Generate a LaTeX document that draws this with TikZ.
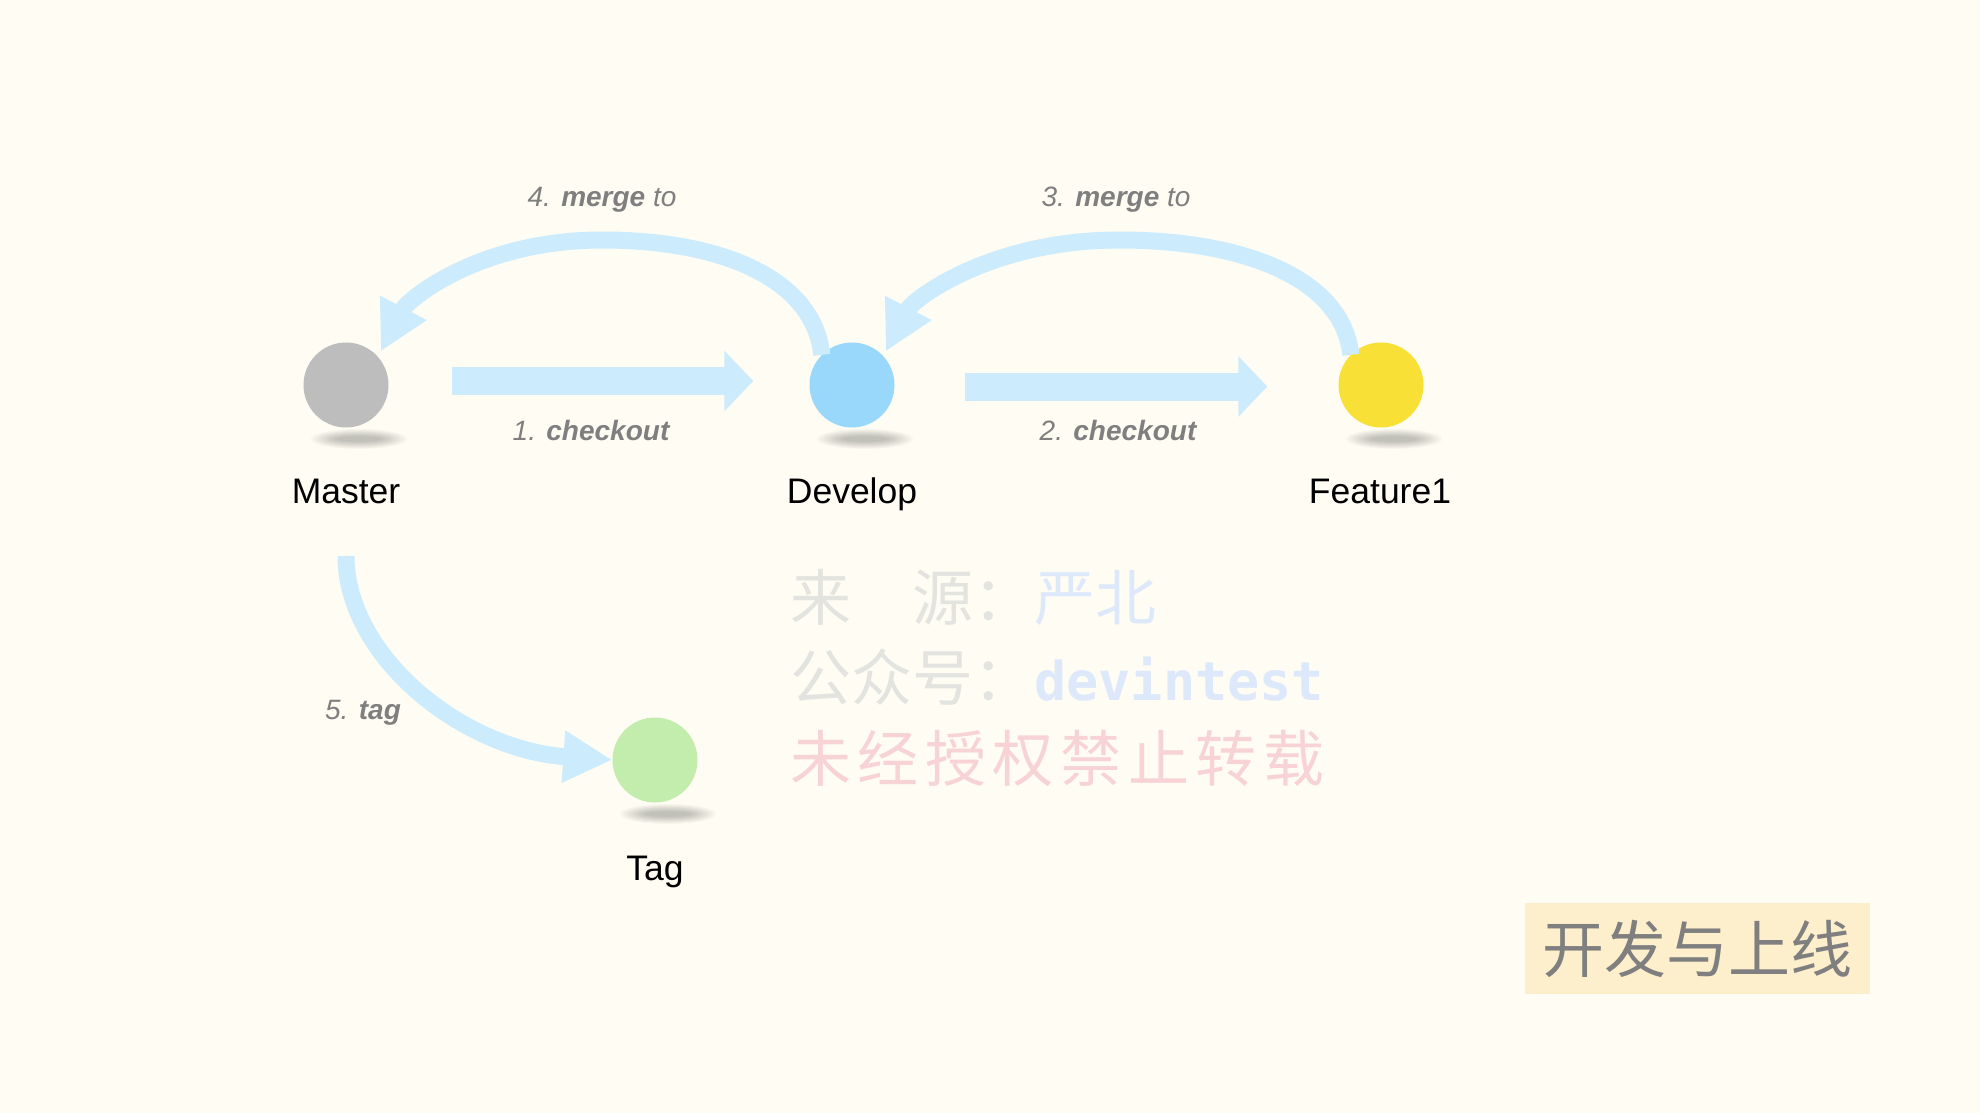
\documentclass[tikz,border=0pt]{standalone}
\usepackage{fontspec}
\setmainfont{Liberation Sans}
\newfontfamily\cjk{Noto Sans CJK SC}
\newfontfamily\cjkls[LetterSpace=10.8]{Noto Sans CJK SC}
\newfontfamily\wmmono{DejaVu Sans Mono}
\usetikzlibrary{arrows.meta,calc}
\definecolor{bgc}{HTML}{FEFCF3}
\definecolor{arrowc}{HTML}{CCEBFC}
\definecolor{cmaster}{HTML}{BDBDBD}
\definecolor{cdev}{HTML}{99D8FA}
\definecolor{cfeat}{HTML}{F8E037}
\definecolor{ctag}{HTML}{C2EDAD}
\definecolor{lblgray}{HTML}{7F7F7F}
\definecolor{wmgray}{HTML}{E3E3E0}
\definecolor{wmblue}{HTML}{DDE9FA}
\definecolor{wmpink}{HTML}{F8D3D6}
\definecolor{titlebg}{HTML}{FDEFCC}
\definecolor{titlefg}{HTML}{7F7F7F}
\tikzset{
  dot/.style={circle, inner sep=0pt, minimum size=85pt, draw=none},
  branchname/.style={inner sep=0pt, text=black, font=\fontsize{35.5}{40}\selectfont},
  steplbl/.style={inner sep=0pt, text=lblgray, font=\fontsize{28}{32}\selectfont\itshape},
  flatarrow/.style={draw=arrowc, line width=28pt, -{Triangle[length=29pt,width=59pt]}},
  curvearrow/.style={draw=arrowc, line width=17pt, -{Triangle[length=49pt,width=49pt]}},
  wm/.style={inner sep=0pt, font=\fontsize{61}{66}\selectfont\cjk},
}
\begin{document}
\begin{tikzpicture}[x=1pt,y=-1pt]
\fill[bgc] (0,0) rectangle (1980,1113);
\useasboundingbox (0,0) rectangle (1980,1113);

% shadows
\foreach \cx/\cy in {346/385, 852/385, 1381/385, 655/760}{
  \foreach \k in {0,...,8}{
    \fill[black, opacity=0.028] (\cx+13,\cy+54) ellipse ({48-3.2*\k} and {10-0.9*\k});
  }
}

% branch dots
\node[dot, fill=cmaster] (m) at (346,385) {};
\node[dot, fill=cdev] (d) at (852,385) {};
\node[dot, fill=cfeat] (f) at (1381,385) {};
\node[dot, fill=ctag] (t) at (655,760) {};

% names
\node[branchname, anchor=base] (ml) at (346,503) {Master};
\node[branchname, anchor=base] (dl) at (852,503) {Develop};
\node[branchname, anchor=base] (fl) at (1380,503) {Feature1};
\node[branchname, anchor=base] (tl) at (655,880) {Tag};

% straight arrows
\draw[flatarrow] ($(m.east)+(63,-4)$) -- ($(d.west)+(-56,-4)$);
\draw[flatarrow] ($(d.east)+(70,1.5)$) -- ($(f.west)+(-71,1.5)$);

% curved arrows
\draw[curvearrow] (d.135) .. controls (814,280) and (724,240) .. (602,240)
  .. controls (480,240) and (408,299) .. ($(m.44)+(4,-4)$);
\draw[curvearrow] (f.135) .. controls (1343,280) and (1247,240) .. (1119,240)
  .. controls (991,240) and (913,299) .. ($(d.44)+(3,-4)$);
\coordinate (mstart) at ($(m.center)+(0,171)$);
\draw[curvearrow] (mstart) .. controls (346,656) and (462,749.5) .. (t.west);

% step labels
\node[steplbl, anchor=base] (s1) at (591,440) {1. \textbf{checkout}};
\node[steplbl, anchor=base] (s2) at (1118,440) {2. \textbf{checkout}};
\node[steplbl, anchor=base] (s3) at (1116,206) {3. \textbf{merge} to};
\node[steplbl, anchor=base] (s4) at (602,206) {4. \textbf{merge} to};
\node[steplbl, anchor=base] (s5) at (363,719) {5. \textbf{tag}};

% watermark
\node[wm, anchor=base west] (w1) at (790,620) {\textcolor{wmgray}{来　源：}\textcolor{wmblue}{严北}};
\node[wm, anchor=base west] (w2) at (790,700) {\textcolor{wmgray}{公众号：}\textcolor{wmblue}{\wmmono\bfseries\fontsize{53.5}{60}\selectfont devintest}};
\node[wm, anchor=base west, font=\fontsize{61}{66}\selectfont\cjkls, text=wmpink] (w3) at (790,781) {未经授权禁止转载};

% title
\node[fill=titlebg, minimum width=345pt, minimum height=91pt, inner sep=0pt,
      text=titlefg, font=\fontsize{62}{68}\selectfont\cjk] (title) at (1697.5,948.5) {开发与上线};
\end{tikzpicture}
\end{document}
